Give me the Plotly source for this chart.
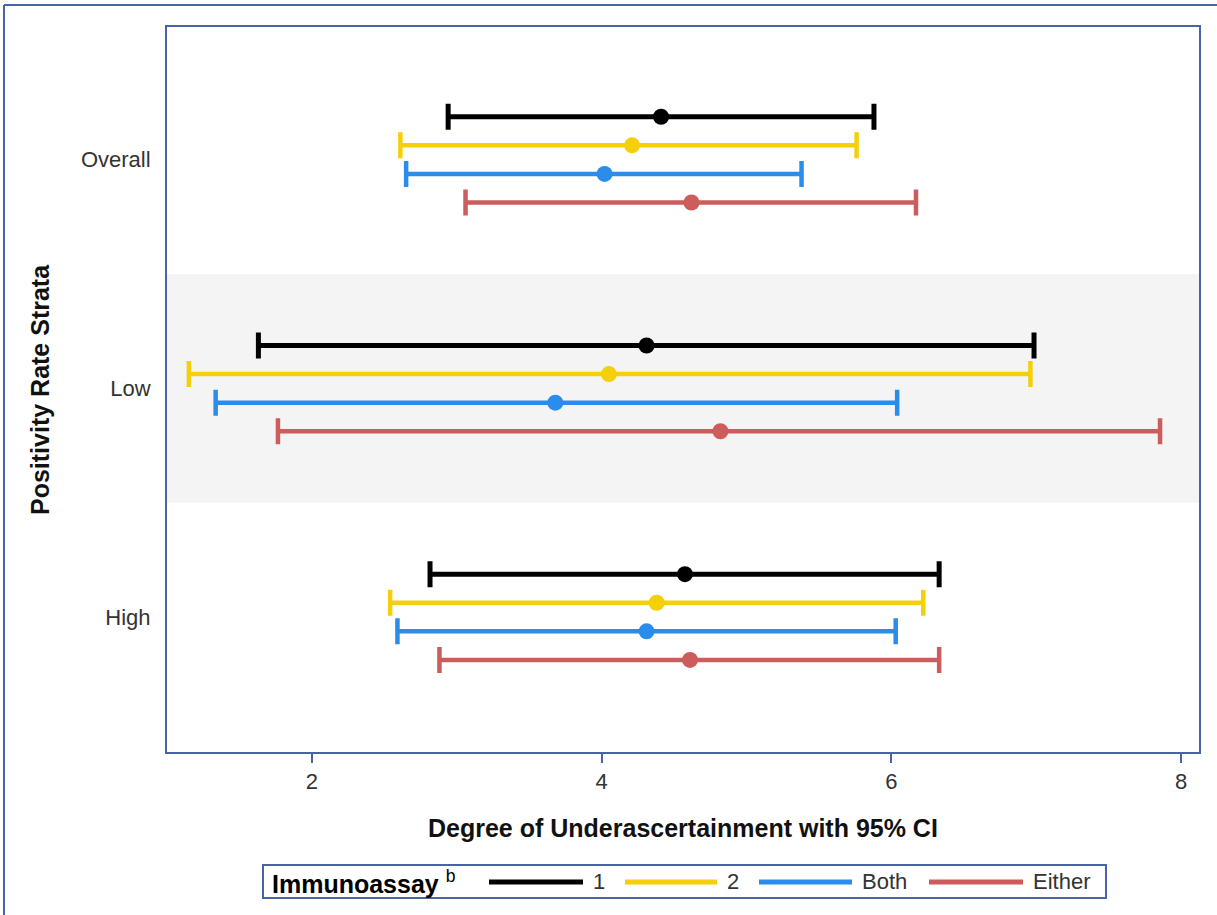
import plotly.graph_objects as go

# ---------------- data ----------------
categories = ["Overall", "Low", "High"]
series_names = ["1", "2", "Both", "Either"]
series_colors = ["#000000", "#F5CF0A", "#2A8CEB", "#CD5C5C"]

est_1 = [4.41, 4.31, 4.575]
lo_1 = [2.94, 1.63, 2.815]
hi_1 = [5.88, 6.985, 6.33]

est_2 = [4.21, 4.05, 4.38]
lo_2 = [2.61, 1.15, 2.54]
hi_2 = [5.76, 6.96, 6.22]

est_both = [4.02, 3.68, 4.31]
lo_both = [2.65, 1.335, 2.59]
hi_both = [5.38, 6.04, 6.03]

est_either = [4.62, 4.82, 4.61]
lo_either = [3.06, 1.765, 2.88]
hi_either = [6.17, 7.855, 6.33]

x_ticks = [2, 4, 6, 8]
series_offsets = [-0.1875, -0.0625, 0.0625, 0.1875]

# ---------------- layout helpers ----------------
W, H = 1217, 915
L, R, T, B = 167, 1199, 27, 752
FRAME = "#4A62A6"
FONT = "Liberation Sans, Arial"


def px(x):
    return (x - L) / (R - L)


def py(y):
    return (B - y) / (B - T)


est_all = [est_1, est_2, est_both, est_either]
lo_all = [lo_1, lo_2, lo_both, lo_either]
hi_all = [hi_1, hi_2, hi_both, hi_either]
thick = [5, 4.5, 4.5, 4.5]

fig = go.Figure()
for name, col, off, e, lo, hi, th in zip(series_names, series_colors, series_offsets,
                                          est_all, lo_all, hi_all, thick):
    yv = [i + off for i in range(len(categories))]
    fig.add_trace(go.Scatter(
        x=e, y=yv, mode="markers", name=name,
        marker=dict(color=col, size=16, symbol="circle"),
        error_x=dict(type="data", symmetric=False,
                     array=[h - m for h, m in zip(hi, e)],
                     arrayminus=[m - l for m, l in zip(e, lo)],
                     color=col, thickness=th, width=13),
        showlegend=False,
        hovertemplate=name + ": %{x:.2f}<extra></extra>",
    ))

shapes = []
# grey band behind the "Low" stratum
shapes.append(dict(type="rect", xref="paper", yref="y", x0=0, x1=1, y0=0.5, y1=1.5,
                   fillcolor="#F4F4F4", line=dict(width=0), layer="below"))
# outer border (top and left visible)
shapes.append(dict(type="line", xref="paper", yref="paper",
                   x0=px(4), x1=px(1240), y0=py(5), y1=py(5),
                   line=dict(color=FRAME, width=2)))
shapes.append(dict(type="line", xref="paper", yref="paper",
                   x0=px(4), x1=px(4), y0=py(5), y1=py(940),
                   line=dict(color=FRAME, width=2)))
# legend box
shapes.append(dict(type="rect", xref="paper", yref="paper",
                   x0=px(263), x1=px(1106), y0=py(898), y1=py(865),
                   line=dict(color=FRAME, width=2), fillcolor="white"))

annotations = []
leg_y = 882
annotations.append(dict(xref="paper", yref="paper", x=px(270), y=py(leg_y),
                        xanchor="left", yanchor="middle", showarrow=False,
                        text="<b>Immunoassay</b> <sup>b</sup>",
                        font=dict(family=FONT, size=25, color="#000")))
line_x = [(489, 583), (625, 717), (759, 852), (929, 1023)]
for (x0, x1), name, col in zip(line_x, series_names, series_colors):
    shapes.append(dict(type="line", xref="paper", yref="paper",
                       x0=px(x0), x1=px(x1), y0=py(leg_y), y1=py(leg_y),
                       line=dict(color=col, width=5)))
    annotations.append(dict(xref="paper", yref="paper", x=px(x1 + 8), y=py(leg_y),
                            xanchor="left", yanchor="middle", showarrow=False,
                            text=name,
                            font=dict(family=FONT, size=22, color="#333")))

# axis titles
annotations.append(dict(xref="paper", yref="paper", x=px(683), y=py(828),
                        xanchor="center", yanchor="middle", showarrow=False,
                        text="<b>Degree of Underascertainment with 95% CI</b>",
                        font=dict(family=FONT, size=25, color="#111")))
annotations.append(dict(xref="paper", yref="paper", x=px(40), y=py(390),
                        xanchor="center", yanchor="middle", showarrow=False, textangle=-90,
                        text="<b>Positivity Rate Strata</b>",
                        font=dict(family=FONT, size=25, color="#111")))

fig.update_layout(
    width=W, height=H,
    margin=dict(l=L, r=W - R, t=T, b=H - B, autoexpand=False),
    paper_bgcolor="white", plot_bgcolor="white",
    font=dict(family=FONT, size=22, color="#333"),
    shapes=shapes, annotations=annotations,
    xaxis=dict(range=[0.999, 8.124], tickvals=x_ticks, ticktext=[str(t) for t in x_ticks],
               showgrid=False, zeroline=False, showline=True, mirror=True,
               linecolor=FRAME, linewidth=2, ticks="outside", ticklen=9,
               tickcolor=FRAME, tickwidth=2,
               tickfont=dict(family=FONT, size=22, color="#333")),
    yaxis=dict(range=[2.59, -0.58], tickvals=list(range(len(categories))), ticktext=categories,
               showgrid=False, zeroline=False, showline=True, mirror=True,
               linecolor=FRAME, linewidth=2, ticks="", ticklabelstandoff=10,
               tickfont=dict(family=FONT, size=22, color="#333")),
    showlegend=False,
)

fig.write_html("out.html",
               config={"displayModeBar": False},
               post_script="document.body.style.margin='0';document.body.style.overflow='hidden';")
